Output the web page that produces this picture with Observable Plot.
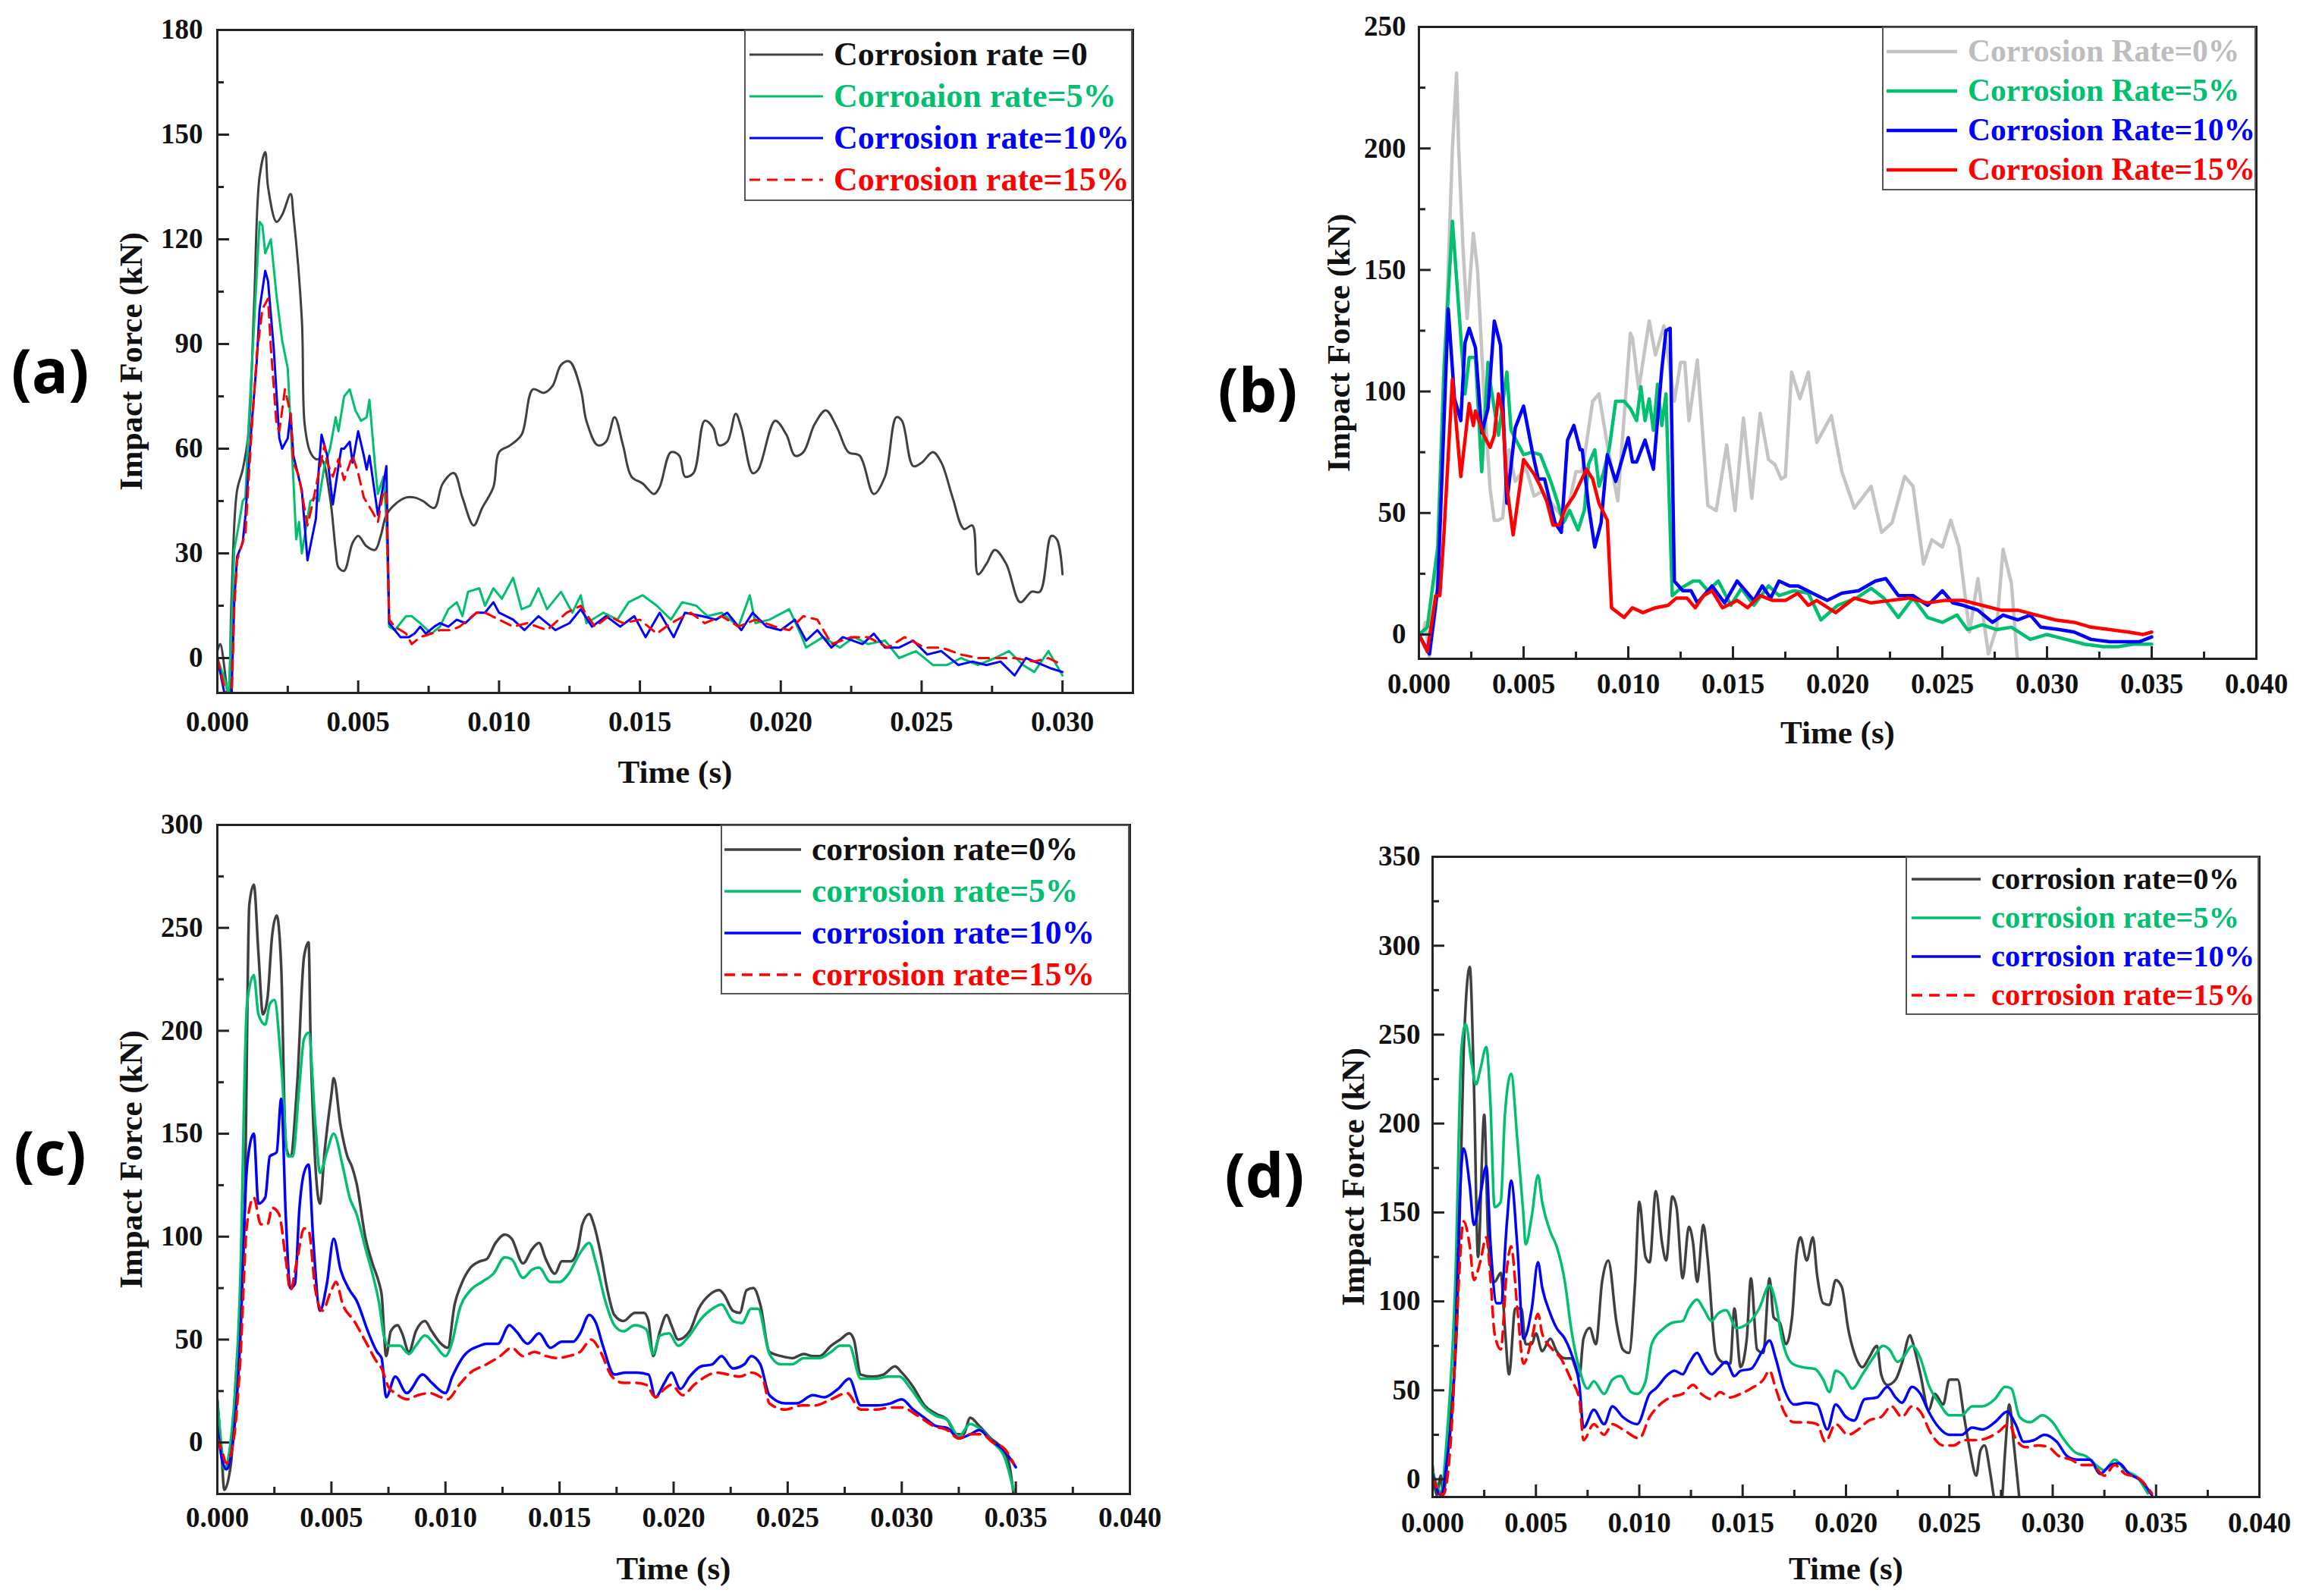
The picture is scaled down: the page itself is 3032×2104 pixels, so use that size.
<!DOCTYPE html>
<html>
<head>
<meta charset="utf-8">
<script src="https://cdn.jsdelivr.net/npm/d3@7"></script>
<script src="https://cdn.jsdelivr.net/npm/@observablehq/plot@0.6"></script>
<style>
  body { margin: 0; background: #fff; }
  #page { position: relative; width: 3032px; height: 2104px; background: #fff; overflow: hidden; }
  .panel { position: absolute; }
  .tag { position: absolute; font-family: "Open Sans", "DejaVu Sans", sans-serif; font-weight: 700; font-size: 80px; line-height: 1; transform: translate(-50%, -50%); }
  .legend { position: absolute; border: 2px solid #555; background: #fff; box-sizing: border-box; }
  .legend .row { position: absolute; left: 0; display: flex; align-items: center; white-space: nowrap;
    font-family: "Liberation Serif", "Times New Roman", serif; font-weight: bold; line-height: 1; }
  .legend svg { margin-right: 14px; }
  g[aria-label="x-axis label"], g[aria-label="y-axis label"] { font-size: 43px; }
</style>
</head>
<body>
<div id="page"></div>
<script>
// ---- panel (a) ----
const a0 = [[0,2],[0.0001,4],[0.0003,-6],[0.0004,-12],[0.0005,16],[0.0007,48],[0.0009,54],[0.0011,64],[0.0013,100],[0.0015,138],[0.0017,145],[0.0018,135],[0.0021,125],[0.0023,127],[0.0026,133],[0.0027,127],[0.0030,97],[0.0031,67],[0.0033,59],[0.0035,57],[0.0037,57],[0.0040,46],[0.0042,31],[0.0043,26],[0.0045,25],[0.0048,33],[0.0050,35],[0.0053,32],[0.0056,31],[0.0058,35],[0.0060,41],[0.0063,44],[0.0067,46],[0.0070,46],[0.0073,45],[0.0077,43],[0.0080,50],[0.0084,53],[0.0087,46],[0.0091,38],[0.0094,43],[0.0098,49],[0.0100,59],[0.0104,61],[0.0108,64],[0.0112,77],[0.0116,76],[0.0119,78],[0.0122,84],[0.0125,85],[0.0129,77],[0.0131,68],[0.0135,61],[0.0138,62],[0.0141,69],[0.0144,61],[0.0147,52],[0.0151,50],[0.0155,47],[0.0157,49],[0.0161,59],[0.0164,58],[0.0166,52],[0.0169,53],[0.0173,68],[0.0176,66],[0.0178,61],[0.0181,62],[0.0184,70],[0.0186,66],[0.0190,53],[0.0192,54],[0.0198,68],[0.0202,64],[0.0205,58],[0.0208,59],[0.0212,67],[0.0216,71],[0.0220,66],[0.0224,59],[0.0228,58],[0.0233,47],[0.0237,52],[0.0241,69],[0.0243,68],[0.0247,55],[0.0250,56],[0.0254,59],[0.0257,56],[0.0261,46],[0.0265,37],[0.0268,38],[0.0270,24],[0.0273,27],[0.0276,31],[0.0280,27],[0.0285,16],[0.0289,19],[0.0292,19],[0.0296,35],[0.0298,34],[0.0300,24]];
const a5 = [[0,0],[0.0003,-7],[0.0004,-12],[0.0006,31],[0.0008,40],[0.0009,45],[0.0010,46],[0.0011,65],[0.0013,95],[0.0015,125],[0.0016,124],[0.0017,116],[0.0019,120],[0.0021,104],[0.0023,91],[0.0025,83],[0.0026,67],[0.0027,51],[0.0028,34],[0.0029,39],[0.0030,30],[0.0033,45],[0.0035,46],[0.0036,45],[0.0038,55],[0.0040,60],[0.0042,69],[0.0043,65],[0.0045,75],[0.0047,77],[0.0049,71],[0.0051,68],[0.0053,69],[0.0054,74],[0.0056,55],[0.0057,47],[0.0059,52],[0.0060,40],[0.0061,9],[0.0063,8],[0.0067,12],[0.0069,12],[0.0072,10],[0.0076,7],[0.0079,9],[0.0082,14],[0.0085,16],[0.0087,12],[0.0089,19],[0.0093,20],[0.0095,15],[0.0098,20],[0.0101,17],[0.0105,23],[0.0108,14],[0.0111,15],[0.0114,20],[0.0117,14],[0.0122,19],[0.0126,13],[0.0129,18],[0.0131,10],[0.0137,13],[0.0142,11],[0.0146,16],[0.0151,18],[0.0156,15],[0.0161,11],[0.0165,16],[0.0170,15],[0.0174,12],[0.0179,13],[0.0185,9],[0.0189,18],[0.0191,10],[0.0196,11],[0.0203,14],[0.0207,7],[0.0209,3],[0.0215,6],[0.0221,3],[0.0226,6],[0.0231,4],[0.0237,5],[0.0242,0],[0.0248,2],[0.0254,-2],[0.0259,-2],[0.0264,0],[0.0270,-2],[0.0276,0],[0.0281,2],[0.0286,-2],[0.0290,-4],[0.0295,2],[0.0300,-5]];
const a10 = [[0,0],[0.0003,-12],[0.0005,-12],[0.0006,16],[0.0007,29],[0.0009,33],[0.0010,41],[0.0012,65],[0.0014,85],[0.0015,100],[0.0017,111],[0.0018,108],[0.0020,89],[0.0022,63],[0.0023,60],[0.0025,63],[0.0026,70],[0.0027,58],[0.0030,48],[0.0032,28],[0.0035,40],[0.0036,54],[0.0037,64],[0.0039,58],[0.0041,44],[0.0043,55],[0.0044,60],[0.0045,60],[0.0047,62],[0.0048,56],[0.0050,65],[0.0052,58],[0.0053,54],[0.0054,58],[0.0057,41],[0.0059,50],[0.0060,55],[0.0061,10],[0.0063,8],[0.0065,6],[0.0068,6],[0.0070,7],[0.0072,9],[0.0074,7],[0.0077,9],[0.0079,10],[0.0082,9],[0.0085,11],[0.0088,10],[0.0092,13],[0.0095,13],[0.0098,16],[0.0100,13],[0.0105,11],[0.0109,8],[0.0114,12],[0.0120,8],[0.0125,10],[0.0129,14],[0.0133,9],[0.0138,12],[0.0143,9],[0.0148,12],[0.0152,6],[0.0157,13],[0.0162,6],[0.0166,13],[0.0172,12],[0.0177,11],[0.0181,13],[0.0186,8],[0.0190,13],[0.0195,9],[0.0200,8],[0.0205,11],[0.0209,5],[0.0213,8],[0.0218,3],[0.0222,6],[0.0229,4],[0.0233,7],[0.0237,3],[0.0242,3],[0.0247,5],[0.0252,1],[0.0257,2],[0.0263,-2],[0.0268,-1],[0.0273,-2],[0.0278,-1],[0.0283,-5],[0.0287,0],[0.0293,-2],[0.0296,-3],[0.0300,-4]];
const a15 = [[0,0],[0.0003,-10],[0.0005,-14],[0.0006,14],[0.0007,28],[0.0010,36],[0.0012,63],[0.0014,87],[0.0016,100],[0.0018,103],[0.0019,89],[0.0021,67],[0.0022,65],[0.0024,77],[0.0026,70],[0.0027,56],[0.0029,52],[0.0032,38],[0.0034,45],[0.0036,53],[0.0038,61],[0.0039,56],[0.0041,52],[0.0043,57],[0.0045,51],[0.0048,58],[0.0050,53],[0.0052,46],[0.0055,42],[0.0057,39],[0.0059,48],[0.0060,47],[0.0061,11],[0.0063,9],[0.0067,7],[0.0069,4],[0.0072,6],[0.0076,7],[0.0079,8],[0.0083,8],[0.0086,9],[0.0092,13],[0.0095,13],[0.0100,11],[0.0105,9],[0.0110,10],[0.0117,8],[0.0124,13],[0.0129,15],[0.0134,9],[0.0139,12],[0.0144,10],[0.0150,11],[0.0156,7],[0.0161,10],[0.0168,13],[0.0173,10],[0.0179,12],[0.0185,9],[0.0191,11],[0.0198,9],[0.0203,8],[0.0208,12],[0.0213,11],[0.0218,4],[0.0225,6],[0.0231,6],[0.0238,3],[0.0244,6],[0.0251,3],[0.0257,3],[0.0264,1],[0.0270,0],[0.0277,0],[0.0283,0],[0.0290,-1],[0.0295,0],[0.0300,-2]];
const aNames = ["Corrosion rate =0", "Corroaion rate=5%", "Corrosion rate=10%", "Corrosion rate=15%"];

// ---- panel (b) ----
const b0 = [[0,0],[0.0002,0],[0.0003,5],[0.0005,-9],[0.0008,10],[0.0010,50],[0.0012,100],[0.0014,150],[0.0016,200],[0.0018,231],[0.0019,200],[0.0021,160],[0.0023,130],[0.0026,165],[0.0028,150],[0.0031,100],[0.0034,60],[0.0036,47],[0.0038,47],[0.0040,48],[0.0043,76],[0.0046,63],[0.0051,69],[0.0055,57],[0.0059,59],[0.0066,51],[0.0070,47],[0.0075,67],[0.0078,67],[0.0083,96],[0.0086,99],[0.0090,78],[0.0095,55],[0.0101,124],[0.0102,122],[0.0105,101],[0.0110,129],[0.0113,115],[0.0117,127],[0.0122,96],[0.0125,112],[0.0127,112],[0.0129,88],[0.0133,113],[0.0138,53],[0.0142,51],[0.0147,78],[0.0151,51],[0.0155,89],[0.0159,56],[0.0163,91],[0.0167,72],[0.0170,70],[0.0173,64],[0.0175,65],[0.0178,108],[0.0182,97],[0.0186,108],[0.0190,79],[0.0197,90],[0.0202,67],[0.0208,52],[0.0216,61],[0.0221,42],[0.0226,46],[0.0232,65],[0.0236,61],[0.0241,29],[0.0245,39],[0.0250,36],[0.0254,47],[0.0258,36],[0.0263,1],[0.0267,23],[0.0272,-8],[0.0276,3],[0.0279,35],[0.0283,21],[0.0286,-12]];
const b5 = [[0,0],[0.0004,3],[0.0009,36],[0.0012,110],[0.0016,170],[0.0022,99],[0.0024,114],[0.0027,114],[0.0030,67],[0.0033,112],[0.0034,104],[0.0038,82],[0.0042,108],[0.0044,84],[0.0050,74],[0.0054,75],[0.0058,74],[0.0063,63],[0.0066,55],[0.0069,46],[0.0072,51],[0.0076,43],[0.0079,51],[0.0081,70],[0.0084,76],[0.0086,61],[0.0088,66],[0.0091,77],[0.0094,96],[0.0098,96],[0.0101,93],[0.0104,88],[0.0106,102],[0.0108,88],[0.0110,97],[0.0112,84],[0.0114,103],[0.0116,86],[0.0118,99],[0.0121,16],[0.0125,19],[0.0131,22],[0.0134,22],[0.0138,18],[0.0143,22],[0.0149,12],[0.0154,19],[0.0160,12],[0.0167,20],[0.0172,16],[0.0179,18],[0.0186,17],[0.0192,6],[0.0200,12],[0.0209,15],[0.0216,19],[0.0222,15],[0.0229,7],[0.0236,15],[0.0243,7],[0.0250,5],[0.0257,8],[0.0262,2],[0.0269,4],[0.0276,2],[0.0283,3],[0.0292,-2],[0.0300,0],[0.0309,-2],[0.0318,-4],[0.0327,-5],[0.0334,-5],[0.0341,-4],[0.0350,-4]];
const b10 = [[0,0],[0.0005,-8],[0.0009,19],[0.0014,134],[0.0017,97],[0.0020,88],[0.0022,120],[0.0024,126],[0.0027,118],[0.0030,83],[0.0033,93],[0.0036,129],[0.0039,119],[0.0042,54],[0.0046,85],[0.0050,94],[0.0054,76],[0.0057,64],[0.0060,64],[0.0065,46],[0.0068,42],[0.0071,80],[0.0074,86],[0.0077,76],[0.0078,76],[0.0081,53],[0.0084,36],[0.0087,46],[0.0090,74],[0.0094,63],[0.0096,69],[0.0100,81],[0.0102,71],[0.0104,71],[0.0108,80],[0.0112,68],[0.0116,109],[0.0118,125],[0.0120,126],[0.0122,22],[0.0126,18],[0.0130,18],[0.0133,13],[0.0140,20],[0.0146,13],[0.0152,22],[0.0160,14],[0.0164,20],[0.0168,15],[0.0172,22],[0.0177,20],[0.0181,20],[0.0188,17],[0.0195,14],[0.0202,17],[0.0210,18],[0.0218,22],[0.0223,23],[0.0229,16],[0.0236,16],[0.0243,12],[0.0250,18],[0.0255,13],[0.0260,12],[0.0267,10],[0.0274,5],[0.0279,8],[0.0286,6],[0.0292,8],[0.0297,3],[0.0306,2],[0.0313,1],[0.0321,-2],[0.0330,-3],[0.0337,-3],[0.0344,-3],[0.0350,-1]];
const b15 = [[0,0],[0.0004,-7],[0.0008,16],[0.0010,16],[0.0012,42],[0.0016,105],[0.0020,65],[0.0024,95],[0.0026,86],[0.0027,92],[0.0031,82],[0.0034,77],[0.0036,82],[0.0038,99],[0.0040,91],[0.0042,61],[0.0045,41],[0.0050,72],[0.0055,66],[0.0058,61],[0.0061,55],[0.0064,45],[0.0067,45],[0.0070,52],[0.0074,57],[0.0080,68],[0.0083,64],[0.0086,54],[0.0090,47],[0.0092,11],[0.0095,9],[0.0098,7],[0.0102,11],[0.0107,9],[0.0113,11],[0.0119,12],[0.0123,15],[0.0128,15],[0.0132,11],[0.0136,16],[0.0140,18],[0.0145,11],[0.0152,14],[0.0157,11],[0.0163,16],[0.0169,14],[0.0175,14],[0.0181,17],[0.0186,12],[0.0190,14],[0.0199,9],[0.0208,15],[0.0216,13],[0.0225,14],[0.0234,15],[0.0243,13],[0.0251,14],[0.0260,14],[0.0269,12],[0.0278,10],[0.0286,10],[0.0295,8],[0.0304,6],[0.0313,5],[0.0321,3],[0.0330,2],[0.0339,1],[0.0346,0],[0.0350,1]];
const bNames = ["Corrosion Rate=0%", "Corrosion Rate=5%", "Corrosion Rate=10%", "Corrosion Rate=15%"];

// ---- panel (c) ----
const c0 = [[0,21],[0.0002,-8],[0.0003,-23],[0.0006,-10],[0.0008,29],[0.0012,114],[0.0014,261],[0.0016,271],[0.0018,238],[0.0020,208],[0.0022,216],[0.0024,246],[0.0026,256],[0.0028,231],[0.0030,144],[0.0032,139],[0.0035,174],[0.0038,236],[0.0040,243],[0.0041,189],[0.0045,116],[0.0047,141],[0.0050,169],[0.0051,177],[0.0054,154],[0.0057,139],[0.0059,134],[0.0061,126],[0.0065,99],[0.0068,87],[0.0071,77],[0.0072,72],[0.0074,42],[0.0076,54],[0.0079,57],[0.0081,53],[0.0084,44],[0.0087,54],[0.0091,59],[0.0094,54],[0.0098,48],[0.0101,46],[0.0104,67],[0.0107,77],[0.0111,85],[0.0115,88],[0.0118,89],[0.0122,97],[0.0126,101],[0.0129,99],[0.0134,87],[0.0138,94],[0.0141,97],[0.0144,89],[0.0148,82],[0.0151,88],[0.0155,88],[0.0158,94],[0.0160,106],[0.0163,111],[0.0165,106],[0.0168,92],[0.0171,74],[0.0174,62],[0.0178,59],[0.0183,63],[0.0187,63],[0.0189,59],[0.0191,42],[0.0194,54],[0.0197,62],[0.0199,57],[0.0202,50],[0.0207,54],[0.0211,65],[0.0216,72],[0.0220,74],[0.0222,72],[0.0226,64],[0.0229,63],[0.0232,74],[0.0235,75],[0.0238,67],[0.0242,44],[0.0247,42],[0.0252,41],[0.0257,43],[0.0261,42],[0.0264,42],[0.0269,47],[0.0273,50],[0.0277,53],[0.0279,50],[0.0282,33],[0.0287,32],[0.0292,33],[0.0297,37],[0.0300,34],[0.0305,27],[0.0310,18],[0.0315,14],[0.0320,11],[0.0324,4],[0.0327,4],[0.0330,12],[0.0334,8],[0.0339,2],[0.0344,-3],[0.0347,-10],[0.0349,-25]];
const c5 = [[0,20],[0.0002,-4],[0.0003,-13],[0.0006,2],[0.0010,77],[0.0013,213],[0.0016,227],[0.0018,208],[0.0021,203],[0.0023,213],[0.0025,215],[0.0028,184],[0.0031,139],[0.0033,139],[0.0036,174],[0.0038,196],[0.0040,199],[0.0043,154],[0.0045,131],[0.0048,141],[0.0051,150],[0.0055,134],[0.0058,119],[0.0061,111],[0.0065,94],[0.0068,82],[0.0071,67],[0.0073,52],[0.0075,47],[0.0080,47],[0.0084,43],[0.0087,47],[0.0091,52],[0.0095,48],[0.0100,42],[0.0103,49],[0.0106,64],[0.0111,74],[0.0116,78],[0.0121,82],[0.0126,90],[0.0129,89],[0.0134,80],[0.0138,84],[0.0141,85],[0.0146,78],[0.0150,78],[0.0154,82],[0.0159,92],[0.0163,97],[0.0166,87],[0.0170,69],[0.0174,57],[0.0178,54],[0.0183,57],[0.0188,55],[0.0191,43],[0.0194,52],[0.0198,53],[0.0202,47],[0.0207,52],[0.0212,60],[0.0217,65],[0.0221,67],[0.0226,59],[0.0230,58],[0.0234,65],[0.0237,65],[0.0242,43],[0.0247,38],[0.0252,38],[0.0257,41],[0.0264,41],[0.0269,44],[0.0273,47],[0.0277,47],[0.0282,31],[0.0289,31],[0.0294,32],[0.0299,32],[0.0304,26],[0.0310,17],[0.0315,13],[0.0320,11],[0.0325,3],[0.0330,9],[0.0335,6],[0.0340,0],[0.0345,-7],[0.0349,-23]];
const c10 = [[0,8],[0.0002,-8],[0.0004,-13],[0.0007,2],[0.0010,49],[0.0013,134],[0.0016,150],[0.0018,116],[0.0021,119],[0.0023,139],[0.0026,141],[0.0028,167],[0.0030,110],[0.0032,75],[0.0034,77],[0.0036,114],[0.0038,131],[0.0040,135],[0.0042,99],[0.0045,64],[0.0048,77],[0.0051,99],[0.0054,84],[0.0058,74],[0.0061,69],[0.0066,54],[0.0070,44],[0.0072,41],[0.0074,22],[0.0078,32],[0.0083,24],[0.0090,33],[0.0094,29],[0.0100,24],[0.0103,32],[0.0108,42],[0.0115,47],[0.0118,48],[0.0123,48],[0.0128,57],[0.0131,54],[0.0136,48],[0.0141,53],[0.0146,46],[0.0151,49],[0.0156,49],[0.0159,53],[0.0163,62],[0.0166,58],[0.0169,47],[0.0174,33],[0.0179,34],[0.0184,34],[0.0189,33],[0.0192,22],[0.0196,29],[0.0199,34],[0.0203,26],[0.0207,32],[0.0212,37],[0.0217,38],[0.0221,42],[0.0226,36],[0.0231,38],[0.0234,42],[0.0238,38],[0.0242,23],[0.0249,19],[0.0254,19],[0.0261,23],[0.0266,22],[0.0272,26],[0.0277,31],[0.0282,18],[0.0289,18],[0.0295,19],[0.0300,21],[0.0305,16],[0.0310,12],[0.0315,8],[0.0320,7],[0.0325,2],[0.0330,4],[0.0334,6],[0.0339,1],[0.0344,-3],[0.0347,-7],[0.0350,-12]];
const c15 = [[0,2],[0.0002,-4],[0.0004,-10],[0.0007,0],[0.0010,39],[0.0013,106],[0.0016,119],[0.0019,106],[0.0022,106],[0.0024,114],[0.0027,111],[0.0030,89],[0.0032,74],[0.0035,89],[0.0038,104],[0.0040,103],[0.0043,74],[0.0046,64],[0.0050,74],[0.0052,78],[0.0055,67],[0.0060,59],[0.0065,49],[0.0070,39],[0.0072,36],[0.0075,27],[0.0078,24],[0.0083,21],[0.0088,23],[0.0093,24],[0.0098,22],[0.0101,21],[0.0106,28],[0.0111,34],[0.0118,38],[0.0124,42],[0.0129,46],[0.0134,42],[0.0139,44],[0.0144,42],[0.0149,41],[0.0154,42],[0.0159,44],[0.0164,50],[0.0168,44],[0.0173,32],[0.0178,29],[0.0183,29],[0.0188,28],[0.0192,22],[0.0196,26],[0.0199,28],[0.0204,23],[0.0209,28],[0.0214,32],[0.0219,34],[0.0224,33],[0.0229,32],[0.0234,34],[0.0239,31],[0.0242,19],[0.0249,16],[0.0256,18],[0.0262,18],[0.0269,21],[0.0276,24],[0.0282,16],[0.0289,16],[0.0295,17],[0.0300,17],[0.0307,13],[0.0314,8],[0.0320,6],[0.0325,2],[0.0330,4],[0.0335,4],[0.0340,0],[0.0345,-3],[0.0349,-10]];
const cNames = ["corrosion rate=0%", "corrosion rate=5%", "corrosion rate=10%", "corrosion rate=15%"];

// ---- panel (d) ----
const d0 = [[0,8],[0.0002,-9],[0.0004,2],[0.0005,-8],[0.0009,39],[0.0012,93],[0.0015,239],[0.0018,288],[0.0020,222],[0.0022,125],[0.0025,205],[0.0027,133],[0.0030,111],[0.0033,116],[0.0035,85],[0.0037,59],[0.0040,96],[0.0043,96],[0.0045,76],[0.0048,76],[0.0050,82],[0.0053,72],[0.0057,79],[0.0060,72],[0.0064,68],[0.0067,68],[0.0071,58],[0.0073,79],[0.0076,85],[0.0079,76],[0.0082,111],[0.0085,123],[0.0089,88],[0.0092,73],[0.0095,71],[0.0098,111],[0.0100,156],[0.0103,125],[0.0105,122],[0.0108,162],[0.0111,133],[0.0113,123],[0.0116,159],[0.0118,153],[0.0121,113],[0.0124,142],[0.0126,133],[0.0128,111],[0.0131,143],[0.0133,125],[0.0137,71],[0.0140,66],[0.0144,65],[0.0146,96],[0.0149,63],[0.0152,79],[0.0154,113],[0.0157,73],[0.0160,71],[0.0163,113],[0.0165,91],[0.0168,88],[0.0171,76],[0.0174,92],[0.0176,125],[0.0178,136],[0.0181,123],[0.0184,136],[0.0186,115],[0.0189,99],[0.0192,98],[0.0195,112],[0.0198,108],[0.0201,85],[0.0204,71],[0.0208,63],[0.0211,68],[0.0215,75],[0.0217,59],[0.0220,53],[0.0224,56],[0.0227,65],[0.0231,81],[0.0232,78],[0.0236,59],[0.0240,39],[0.0243,48],[0.0247,42],[0.0250,56],[0.0254,56],[0.0257,36],[0.0260,16],[0.0263,2],[0.0265,16],[0.0267,19],[0.0270,2],[0.0272,-12],[0.0275,-15],[0.0277,16],[0.0279,42],[0.0281,22],[0.0284,-12]];
const d5 = [[0,5],[0.0004,-7],[0.0007,25],[0.0011,111],[0.0014,242],[0.0016,256],[0.0019,233],[0.0021,222],[0.0023,230],[0.0026,243],[0.0028,211],[0.0030,153],[0.0033,156],[0.0035,205],[0.0038,228],[0.0041,191],[0.0044,148],[0.0045,132],[0.0048,148],[0.0051,171],[0.0053,156],[0.0057,139],[0.0060,131],[0.0064,111],[0.0067,85],[0.0071,62],[0.0075,51],[0.0078,55],[0.0083,48],[0.0087,56],[0.0091,58],[0.0096,49],[0.0099,48],[0.0103,55],[0.0106,76],[0.0112,85],[0.0116,88],[0.0121,89],[0.0124,96],[0.0128,101],[0.0131,96],[0.0135,89],[0.0138,93],[0.0142,95],[0.0147,85],[0.0153,88],[0.0158,96],[0.0163,109],[0.0166,99],[0.0169,79],[0.0174,65],[0.0179,63],[0.0185,62],[0.0189,56],[0.0192,49],[0.0195,61],[0.0199,58],[0.0203,51],[0.0208,59],[0.0213,68],[0.0218,75],[0.0221,73],[0.0225,66],[0.0228,69],[0.0232,75],[0.0236,68],[0.0240,53],[0.0245,43],[0.0250,36],[0.0256,36],[0.0261,41],[0.0266,41],[0.0272,45],[0.0277,52],[0.0280,51],[0.0284,35],[0.0289,32],[0.0295,36],[0.0300,32],[0.0305,23],[0.0311,15],[0.0316,13],[0.0321,8],[0.0325,5],[0.0330,11],[0.0335,5],[0.0341,1],[0.0346,-8]];
const d10 = [[0,3],[0.0004,-9],[0.0007,11],[0.0011,73],[0.0013,153],[0.0015,186],[0.0018,165],[0.0020,143],[0.0023,159],[0.0026,176],[0.0028,133],[0.0031,99],[0.0033,99],[0.0036,145],[0.0038,168],[0.0041,131],[0.0044,79],[0.0048,96],[0.0051,122],[0.0053,108],[0.0057,93],[0.0060,85],[0.0064,79],[0.0067,71],[0.0071,53],[0.0073,29],[0.0078,39],[0.0083,31],[0.0087,41],[0.0092,35],[0.0099,31],[0.0105,48],[0.0108,51],[0.0114,59],[0.0117,61],[0.0121,59],[0.0124,65],[0.0128,71],[0.0131,65],[0.0135,59],[0.0138,62],[0.0142,66],[0.0146,58],[0.0149,61],[0.0154,62],[0.0159,71],[0.0163,78],[0.0166,68],[0.0170,51],[0.0175,42],[0.0181,43],[0.0186,42],[0.0191,28],[0.0195,42],[0.0200,35],[0.0204,33],[0.0209,45],[0.0215,46],[0.0220,52],[0.0224,46],[0.0227,43],[0.0232,52],[0.0236,48],[0.0240,38],[0.0245,29],[0.0250,25],[0.0256,25],[0.0261,29],[0.0266,28],[0.0272,32],[0.0278,38],[0.0282,31],[0.0286,21],[0.0291,22],[0.0296,25],[0.0302,21],[0.0307,13],[0.0312,11],[0.0318,11],[0.0323,3],[0.0328,8],[0.0332,9],[0.0337,3],[0.0343,-1],[0.0348,-9]];
const d15 = [[0,1],[0.0005,-9],[0.0009,25],[0.0012,96],[0.0015,145],[0.0018,131],[0.0020,112],[0.0023,122],[0.0026,136],[0.0028,113],[0.0030,82],[0.0033,73],[0.0036,119],[0.0038,131],[0.0041,96],[0.0044,65],[0.0048,79],[0.0051,93],[0.0053,82],[0.0058,73],[0.0062,68],[0.0067,56],[0.0071,45],[0.0073,22],[0.0078,31],[0.0083,25],[0.0087,31],[0.0092,28],[0.0100,23],[0.0105,35],[0.0110,42],[0.0115,46],[0.0121,48],[0.0126,53],[0.0130,48],[0.0135,45],[0.0139,49],[0.0144,46],[0.0149,48],[0.0154,51],[0.0160,56],[0.0163,61],[0.0166,51],[0.0170,38],[0.0175,32],[0.0181,32],[0.0186,31],[0.0190,21],[0.0195,31],[0.0201,25],[0.0206,28],[0.0211,33],[0.0217,35],[0.0222,41],[0.0227,35],[0.0232,41],[0.0236,38],[0.0241,26],[0.0247,19],[0.0252,19],[0.0257,22],[0.0263,22],[0.0268,23],[0.0273,26],[0.0279,31],[0.0282,23],[0.0287,18],[0.0293,19],[0.0298,18],[0.0303,13],[0.0309,11],[0.0314,8],[0.0319,8],[0.0325,2],[0.0330,8],[0.0335,3],[0.0341,1],[0.0348,-8]];
const dNames = ["corrosion rate=0%", "corrosion rate=5%", "corrosion rate=10%", "corrosion rate=15%"];

// axis ticks
const xTicksA = [0, 0.005, 0.010, 0.015, 0.020, 0.025, 0.030];
const xMinorA = [0.0025, 0.0075, 0.0125, 0.0175, 0.0225, 0.0275];
const xTicks = [0, 0.005, 0.010, 0.015, 0.020, 0.025, 0.030, 0.035, 0.040];
const xMinor = [0.0025, 0.0075, 0.0125, 0.0175, 0.0225, 0.0275, 0.0325, 0.0375];
const yTicksA = [0, 30, 60, 90, 120, 150, 180];
const yMinorA = [15, 45, 75, 105, 135, 165];
const yTicksB = [0, 50, 100, 150, 200, 250];
const yMinorB = [25, 75, 125, 175, 225];
const yTicksC = [0, 50, 100, 150, 200, 250, 300];
const yMinorC = [25, 75, 125, 175, 225, 275];
const yTicksD = [0, 50, 100, 150, 200, 250, 300, 350];
const yMinorD = [25, 75, 125, 175, 225, 275, 325];

const BLACK = "#404040", GREEN = "#00c070", BLUE = "#0000ff", RED = "#ff0000", GREY = "#c4c4c4";
const ink = "#222";

function panel(p) {
  const lines = p.series.map(s => Plot.line(s.data, {
    x: d => d[0], y: d => d[1], stroke: s.color, strokeWidth: p.sw,
    strokeDasharray: s.dash ? "14,9" : null, curve: s.curve || "linear", clip: true
  }));
  const chart = Plot.plot({
    width: p.w, height: p.h,
    marginLeft: p.ml, marginRight: 20, marginTop: p.mt, marginBottom: p.mb,
    style: {fontFamily: "'Liberation Serif', 'Times New Roman', serif", fontSize: "37px", fontWeight: "bold", color: "#111", background: "transparent", overflow: "visible"},
    x: {domain: [0, p.xMax]},
    y: {domain: p.yDom},
    marks: [
      ...lines,
      Plot.axisX(p.xMinor, {tickSize: -9, strokeWidth: 3, stroke: ink, tickFormat: () => "", label: null}),
      Plot.axisX(p.xTicks, {tickSize: -16, tickPadding: 16 + p.xGap, strokeWidth: 3, stroke: ink, tickFormat: d3.format(".3f"),
        label: "Time (s)", labelAnchor: "center", labelOffset: p.xLab, labelArrow: "none"}),
      Plot.axisY(p.yMinor, {tickSize: -9, strokeWidth: 3, stroke: ink, tickFormat: () => "", label: null}),
      Plot.axisY(p.yTicks, {tickSize: -16, tickPadding: 16 + p.yGap, strokeWidth: 3, stroke: ink,
        label: "Impact Force (kN)", labelAnchor: "center", labelOffset: p.yLab, labelArrow: "none"}),
      Plot.frame({stroke: ink, strokeWidth: 3})
    ]
  });
  const box = document.createElement("div");
  box.className = "panel";
  box.style.left = p.left + "px";
  box.style.top = p.top + "px";
  box.appendChild(chart);
  page.appendChild(box);
}

function legend(p) {
  const el = document.createElement("div");
  el.className = "legend";
  Object.assign(el.style, {left: p.x + "px", top: p.y + "px", width: p.w + "px", height: p.h + "px"});
  p.series.forEach((s, i) => {
    const row = document.createElement("div");
    row.className = "row";
    row.style.top = (p.row0 + i * p.step - 21) + "px";
    row.style.left = p.pad + "px";
    row.style.height = "42px";
    row.style.fontSize = p.fs + "px";
    row.innerHTML = `<svg width="${p.len}" height="20"><line x1="0" x2="${p.len}" y1="10" y2="10" stroke="${s.color}" stroke-width="${p.sw}" ${s.dash ? 'stroke-dasharray="14,9"' : ""}/></svg><span style="color:${s.text || s.color}">${p.names[i]}</span>`;
    el.appendChild(row);
  });
  page.appendChild(el);
}

function tag(text, x, y) {
  const el = document.createElement("div");
  el.className = "tag";
  el.textContent = text;
  el.style.left = x + "px";
  el.style.top = y + "px";
  page.appendChild(el);
}

const page = document.getElementById("page");

const sA = [{data: a0, color: BLACK, text: "#111", curve: "catmull-rom"}, {data: a5, color: GREEN}, {data: a10, color: BLUE}, {data: a15, color: RED, dash: true}];
const sB = [{data: b0, color: GREY, text: "#bdbdbd"}, {data: b5, color: GREEN}, {data: b10, color: BLUE}, {data: b15, color: RED}];
const sC = [{data: c0, color: BLACK, text: "#111", curve: "monotone-x"}, {data: c5, color: GREEN, curve: "monotone-x"}, {data: c10, color: BLUE, curve: "monotone-x"}, {data: c15, color: RED, dash: true, curve: "monotone-x"}];
const sD = [{data: d0, color: BLACK, text: "#111", curve: "monotone-x"}, {data: d5, color: GREEN, curve: "monotone-x"}, {data: d10, color: BLUE, curve: "monotone-x"}, {data: d15, color: RED, dash: true, curve: "monotone-x"}];

panel({series: sA, left: 120, top: 0, w: 1393, h: 1053, ml: 166, mt: 39, mb: 140, sw: 3,
  xMax: 0.0325, xTicks: xTicksA, xMinor: xMinorA, yDom: [-10, 180], yTicks: yTicksA, yMinor: yMinorA,
  xGap: 24, yGap: 19, xLab: 118, yLab: 130});
panel({series: sB, left: 1700, top: 0, w: 1294, h: 1008, ml: 170, mt: 35, mb: 140, sw: 4.5,
  xMax: 0.04, xTicks: xTicks, xMinor: xMinor, yDom: [-10, 250], yTicks: yTicksB, yMinor: yMinorB,
  xGap: 19, yGap: 17, xLab: 111, yLab: 122});
panel({series: sC, left: 120, top: 1052, w: 1389, h: 1047, ml: 166, mt: 35, mb: 130, sw: 3.5,
  xMax: 0.04, xTicks: xTicks, xMinor: xMinor, yDom: [-25, 300], yTicks: yTicksC, yMinor: yMinorC,
  xGap: 17, yGap: 19, xLab: 112, yLab: 130});
panel({series: sD, left: 1716, top: 1052, w: 1282, h: 1051, ml: 172, mt: 77, mb: 130, sw: 3.5,
  xMax: 0.04, xTicks: xTicks, xMinor: xMinor, yDom: [-10, 350], yTicks: yTicksD, yMinor: yMinorD,
  xGap: 20, yGap: 16, xLab: 108, yLab: 121});

legend({series: sA, names: aNames, x: 981, y: 39, w: 512, h: 226, row0: 31, step: 55, pad: 5, len: 97, sw: 3, fs: 44});
legend({series: sB, names: bNames, x: 2481, y: 35, w: 493, h: 216, row0: 31, step: 52, pad: 4, len: 93, sw: 4.5, fs: 41.5});
legend({series: sC, names: cNames, x: 950, y: 1087, w: 539, h: 224, row0: 31, step: 55, pad: 3, len: 101, sw: 3.5, fs: 43.5});
legend({series: sD, names: dNames, x: 2512, y: 1129, w: 466, h: 209, row0: 28, step: 51, pad: 6, len: 91, sw: 3.5, fs: 40.5});

tag("(a)", 66, 487);
tag("(b)", 1658, 512);
tag("(c)", 66, 1518);
tag("(d)", 1667, 1547);
</script>
</body>
</html>
